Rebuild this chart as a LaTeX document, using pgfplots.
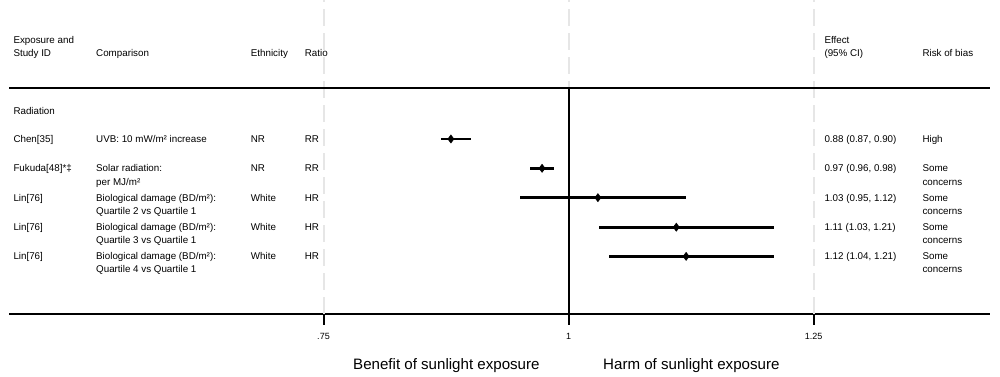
\documentclass[border=0pt]{standalone}
\usepackage{fontspec}
\setmainfont{Liberation Sans}
\usepackage{pgfplots}
\usepackage{pgfplotstable}
\pgfplotsset{compat=1.18}
\pgfplotstableread{
x     y       ep     em
0.880 -139.0  0.020  0.010
0.973 -168.3  0.012  0.012
1.030 -197.7  0.090  0.080
1.110 -227.2  0.100  0.079
1.120 -256.4  0.090  0.079
}\effects
\newcommand{\fs}{\fontsize{9.8}{11}\selectfont}
\newcommand{\T}[3]{\node[anchor=base west,inner sep=0pt,font=\fs] at (#1pt,{(377-#2)*1pt}) {#3};}
\definecolor{dashgray}{HTML}{E6E6E6}
\begin{document}
\begin{tikzpicture}
\useasboundingbox (0,0) rectangle (1000pt,377pt);
\begin{axis}[
  at={(9.3pt,63pt)}, anchor=south west,
  scale only axis, width=980.7pt, height=314pt,
  xmin=0.42939, xmax=1.43010, ymin=-314, ymax=0,
  axis x line*=bottom, axis y line=none,
  axis line style={line width=2pt, black},
  xtick={0.75,1,1.25}, xticklabels={.75,1,1.25},
  major tick length=11pt, tick align=outside,
  tick style={line width=2pt, black},
  xticklabel style={font=\fontsize{9}{10}\selectfont, anchor=base, inner sep=0pt, yshift=-15pt},
  clip=false,
]
\addplot[dashgray, line width=2pt, dash pattern=on 17pt off 7pt, forget plot] coordinates {(0.75,-314) (0.75,0)};
\addplot[dashgray, line width=2pt, dash pattern=on 17pt off 7pt, forget plot] coordinates {(1,-314) (1,0)};
\addplot[dashgray, line width=2pt, dash pattern=on 17pt off 7pt, forget plot] coordinates {(1.25,-314) (1.25,0)};
\addplot[black, line width=2pt, forget plot] coordinates {(0.42939,-88.5) (1.43010,-88.5)};
\addplot[black, line width=2pt, forget plot] coordinates {(1,-88.5) (1,-314)};
\addplot[black, only marks, mark=diamond*, mark size=4pt, mark options={line width=0.6pt},
  error bars/.cd, x dir=both, x explicit, error mark=none,
  error bar style={line width=2.8pt, black}]
  table[x=x, y=y, x error plus=ep, x error minus=em] {\effects};
\end{axis}
% header
\T{13.3}{43.3}{Exposure and}
\T{13.3}{56.7}{Study ID}
\T{96}{56.7}{Comparison}
\T{250.7}{56.7}{Ethnicity}
\T{304.7}{56.7}{Ratio}
\T{824.3}{43.3}{Effect}
\T{824.3}{56.7}{(95\% CI)}
\T{922.3}{56.7}{Risk of bias}
\T{13.3}{114.3}{Radiation}
% row 1
\T{13.3}{142.7}{Chen[35]}
\T{96}{142.7}{UVB: 10 mW/m² increase}
\T{250.7}{142.7}{NR}
\T{304.7}{142.7}{RR}
\T{824.3}{142.7}{0.88 (0.87, 0.90)}
\T{922.3}{142.7}{High}
% row 2
\T{13.3}{172.0}{Fukuda[48]*‡}
\T{96}{172.0}{Solar radiation:}
\T{96}{185.3}{per MJ/m²}
\T{250.7}{172.0}{NR}
\T{304.7}{172.0}{RR}
\T{824.3}{172.0}{0.97 (0.96, 0.98)}
\T{922.3}{172.0}{Some}
\T{922.3}{185.3}{concerns}
% row 3
\T{13.3}{201.4}{Lin[76]}
\T{96}{201.4}{Biological damage (BD/m²):}
\T{96}{214.7}{Quartile 2 vs Quartile 1}
\T{250.7}{201.4}{White}
\T{304.7}{201.4}{HR}
\T{824.3}{201.4}{1.03 (0.95, 1.12)}
\T{922.3}{201.4}{Some}
\T{922.3}{214.7}{concerns}
% row 4
\T{13.3}{230.7}{Lin[76]}
\T{96}{230.7}{Biological damage (BD/m²):}
\T{96}{244.0}{Quartile 3 vs Quartile 1}
\T{250.7}{230.7}{White}
\T{304.7}{230.7}{HR}
\T{824.3}{230.7}{1.11 (1.03, 1.21)}
\T{922.3}{230.7}{Some}
\T{922.3}{244.0}{concerns}
% row 5
\T{13.3}{259.7}{Lin[76]}
\T{96}{259.7}{Biological damage (BD/m²):}
\T{96}{273.0}{Quartile 4 vs Quartile 1}
\T{250.7}{259.7}{White}
\T{304.7}{259.7}{HR}
\T{824.3}{259.7}{1.12 (1.04, 1.21)}
\T{922.3}{259.7}{Some}
\T{922.3}{273.0}{concerns}
% bottom labels
\node[anchor=base west,inner sep=0pt,font=\fontsize{15.1}{17}\selectfont] at (353pt,{(377-369.3)*1pt}) {Benefit of sunlight exposure};
\node[anchor=base west,inner sep=0pt,font=\fontsize{15.1}{17}\selectfont] at (603pt,{(377-369.3)*1pt}) {Harm of sunlight exposure};
\end{tikzpicture}
\end{document}
